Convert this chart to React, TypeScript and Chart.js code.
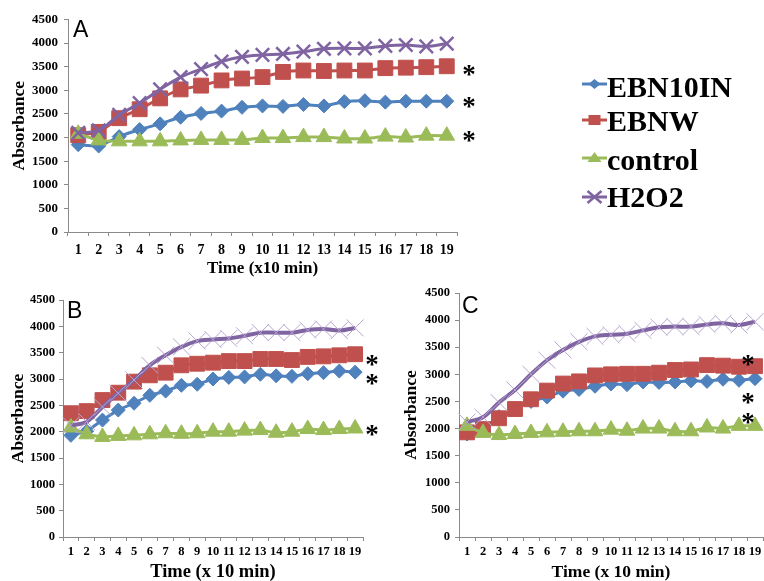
import React, { useEffect, useRef } from "react";
import { Chart, registerables } from "chart.js";

Chart.register(...registerables);

// ---------- data ----------
const categories = ["1", "2", "3", "4", "5", "6", "7", "8", "9", "10", "11", "12", "13", "14", "15", "16", "17", "18", "19"];
const seriesNames = ["EBN10IN", "EBNW", "control", "H2O2"];

const aEBN10IN = [1850, 1820, 2020, 2170, 2290, 2430, 2510, 2560, 2640, 2670, 2660, 2700, 2670, 2760, 2780, 2750, 2770, 2770, 2770];
const aEBNW = [2050, 2120, 2410, 2600, 2830, 3020, 3100, 3210, 3250, 3280, 3390, 3420, 3410, 3420, 3420, 3470, 3480, 3490, 3510];
const aControl = [2080, 1940, 1920, 1920, 1920, 1940, 1950, 1950, 1950, 1990, 1990, 2010, 2010, 1980, 1980, 2020, 2000, 2040, 2040];
const aH2O2 = [2100, 2150, 2480, 2730, 3020, 3280, 3450, 3610, 3710, 3750, 3770, 3820, 3880, 3890, 3890, 3940, 3960, 3930, 3990];

const bEBN10IN = [1930, 2010, 2220, 2410, 2540, 2690, 2770, 2880, 2900, 3000, 3030, 3040, 3090, 3060, 3050, 3100, 3120, 3150, 3130];
const bEBNW = [2350, 2390, 2600, 2740, 2950, 3070, 3120, 3260, 3290, 3310, 3340, 3340, 3380, 3380, 3360, 3420, 3430, 3450, 3470];
const bControl = [2080, 1950, 1900, 1920, 1930, 1950, 1970, 1960, 1970, 2000, 2000, 2020, 2030, 1980, 2000, 2050, 2030, 2050, 2060];
const bH2O2 = [2120, 2190, 2470, 2730, 2980, 3260, 3450, 3610, 3720, 3750, 3770, 3820, 3880, 3880, 3880, 3930, 3950, 3920, 3970];

const cEBN10IN = [1900, 2000, 2220, 2360, 2500, 2580, 2690, 2720, 2780, 2820, 2810, 2860, 2850, 2860, 2880, 2870, 2910, 2890, 2920];
const cEBNW = [1930, 1990, 2190, 2360, 2540, 2700, 2830, 2870, 2980, 3000, 3010, 3010, 3030, 3080, 3090, 3170, 3160, 3140, 3150];
const cControl = [2050, 1920, 1880, 1900, 1920, 1930, 1940, 1950, 1950, 1980, 1960, 2000, 2000, 1950, 1950, 2020, 2000, 2050, 2050];
const cH2O2 = [2120, 2210, 2480, 2710, 3000, 3260, 3450, 3600, 3700, 3730, 3750, 3810, 3870, 3880, 3880, 3920, 3940, 3910, 3970];

// significance asterisks: category position and value
const starsAIndex = [19.09, 19.09, 19.09];
const starsAValue = [3440, 2760, 2040];
const starsBIndex = [19.07, 19.07, 19.07];
const starsBValue = [3360, 3000, 2030];
const starsCIndex = [17.56, 17.56, 17.56];
const starsCValue = [3264, 2563, 2194];

const yMax = 4500;
const yStep = 500;
const panelLetters = ["A", "B", "C"];
const xTitleA = "Time (x10 min)";
const xTitleBC = "Time (x 10 min)";
const yTitle = "Absorbance";

// ---------- styles ----------
const SERIF = "'Liberation Serif', 'Times New Roman', serif";
const SANS = "'Liberation Sans', Arial, sans-serif";
const BLUE = "#4F81BD";
const RED = "#C0504D";
const GREEN = "#9BBB59";
const PURPLE = "#8064A2";
const PURPLE_LIGHT = "#B7A5D0";
const AXIS = "#8A8A8A";

type PanelCfg = {
  width: number;
  height: number;
  padTop: number;
  padRight: number;
  yWidth: number;
  xHeight: number;
  yTickSize: number;
  xTickSize: number;
  yTickPad: number;
  xTickPad: number;
  titleSize: number;
  xTitleSize: number;
  xTitleBottom: number;
  yTitlePad: number;
  xTitle: string;
  letter: string;
  letterX: number;
  letterY: number;
  data: number[][];
  starsIdx: number[];
  starsVal: number[];
  bold: boolean;
  legend: boolean;
};

function makeDatasets(data: number[][], bold: boolean) {
  return [
    {
      label: seriesNames[0],
      data: data[0],
      borderColor: BLUE,
      backgroundColor: BLUE,
      borderWidth: 3,
      pointStyle: "rectRot",
      pointRadius: 7,
      pointBackgroundColor: BLUE,
      pointBorderColor: BLUE,
      pointBorderWidth: 1,
      tension: 0.15,
      order: 3,
      clip: false,
    },
    {
      label: seriesNames[1],
      data: data[1],
      borderColor: RED,
      backgroundColor: RED,
      borderWidth: 3,
      pointStyle: "rect",
      pointRadius: 10.5,
      pointBackgroundColor: RED,
      pointBorderColor: RED,
      pointBorderWidth: 1,
      tension: 0.15,
      order: 2,
      clip: false,
    },
    {
      label: seriesNames[2],
      data: data[2],
      borderColor: GREEN,
      backgroundColor: GREEN,
      borderWidth: 3,
      pointStyle: "triangle",
      pointRadius: 9,
      pointBackgroundColor: GREEN,
      pointBorderColor: GREEN,
      pointBorderWidth: 1,
      tension: 0.15,
      order: 1,
      clip: false,
    },
    {
      label: seriesNames[3],
      data: data[3],
      borderColor: PURPLE,
      backgroundColor: PURPLE,
      borderWidth: bold ? 3 : 4,
      pointStyle: "crossRot",
      pointRadius: bold ? 9.5 : 12,
      pointBackgroundColor: bold ? PURPLE : PURPLE_LIGHT,
      pointBorderColor: bold ? PURPLE : PURPLE_LIGHT,
      pointBorderWidth: bold ? 2.5 : 1,
      tension: 0.35,
      order: 0,
      clip: false,
    },
  ];
}

function drawMarker(ctx: CanvasRenderingContext2D, style: string, x: number, y: number, color: string) {
  ctx.save();
  ctx.fillStyle = color;
  ctx.strokeStyle = color;
  ctx.beginPath();
  if (style === "rectRot") {
    ctx.moveTo(x - 6, y);
    ctx.lineTo(x, y - 5);
    ctx.lineTo(x + 6, y);
    ctx.lineTo(x, y + 5);
    ctx.closePath();
    ctx.fill();
  } else if (style === "rect") {
    ctx.rect(x - 6, y - 5, 12, 10);
    ctx.fill();
  } else if (style === "triangle") {
    ctx.moveTo(x, y - 6);
    ctx.lineTo(x + 7, y + 4);
    ctx.lineTo(x - 7, y + 4);
    ctx.closePath();
    ctx.fill();
  } else {
    ctx.lineWidth = 2.5;
    ctx.moveTo(x - 7, y - 6);
    ctx.lineTo(x + 7, y + 6);
    ctx.moveTo(x - 7, y + 6);
    ctx.lineTo(x + 7, y - 6);
    ctx.stroke();
  }
  ctx.restore();
}

function makeOverlayPlugin(cfg: PanelCfg) {
  return {
    id: "overlay" + cfg.letter,
    afterDraw(chart: any) {
      const ctx: CanvasRenderingContext2D = chart.ctx;
      const xs = chart.scales.x;
      const ys = chart.scales.y;
      ctx.save();
      // panel letter
      ctx.fillStyle = "#000";
      ctx.font = `23px ${SANS}`;
      ctx.textAlign = "left";
      ctx.textBaseline = "alphabetic";
      ctx.fillText(cfg.letter, cfg.letterX, cfg.letterY);
      // asterisks
      ctx.font = `bold 27px ${SERIF}`;
      ctx.textAlign = "center";
      for (let i = 0; i < cfg.starsIdx.length; i++) {
        const px = xs.getPixelForValue(cfg.starsIdx[i]);
        const py = ys.getPixelForValue(cfg.starsVal[i]);
        ctx.fillText("*", px, py + 13);
      }
      // legend
      if (cfg.legend) {
        const colors = [BLUE, RED, GREEN, PURPLE];
        const styles = ["rectRot", "rect", "triangle", "crossRot"];
        const markY = [84, 120, 158, 197];
        const baseY = [97, 131, 170, 207];
        ctx.font = `bold 30px ${SERIF}`;
        ctx.textAlign = "left";
        for (let i = 0; i < seriesNames.length; i++) {
          ctx.strokeStyle = colors[i];
          ctx.lineWidth = 3;
          ctx.beginPath();
          ctx.moveTo(582, markY[i]);
          ctx.lineTo(607, markY[i]);
          ctx.stroke();
          drawMarker(ctx, styles[i], 594.5, markY[i], colors[i]);
          ctx.fillStyle = "#000";
          ctx.fillText(seriesNames[i], 607, baseY[i]);
        }
      }
      ctx.restore();
    },
  };
}

function makeConfig(cfg: PanelCfg): any {
  return {
    type: "line",
    data: { labels: categories, datasets: makeDatasets(cfg.data, cfg.bold) },
    plugins: [makeOverlayPlugin(cfg)],
    options: {
      responsive: false,
      animation: false,
      devicePixelRatio: 1,
      layout: { autoPadding: false, padding: { top: cfg.padTop, right: cfg.padRight, bottom: 0, left: 0 } },
      plugins: { legend: { display: false }, tooltip: { enabled: false } },
      scales: {
        x: {
          type: "category",
          offset: true,
          grid: { offset: true, drawOnChartArea: false, drawTicks: true, tickLength: 4, color: AXIS, lineWidth: 1 },
          border: { display: true, color: AXIS, width: 1 },
          ticks: {
            autoSkip: false,
            maxRotation: 0,
            minRotation: 0,
            padding: cfg.xTickPad,
            color: "#000",
            font: { family: SERIF, weight: "bold", size: cfg.xTickSize },
          },
          title: {
            display: true,
            text: cfg.xTitle,
            color: "#000",
            font: { family: SERIF, weight: "bold", size: cfg.xTitleSize, lineHeight: 1 },
            padding: { top: 0, bottom: cfg.xTitleBottom },
          },
          afterFit: (s: any) => {
            s.height = cfg.xHeight;
            s.paddingLeft = 0;
            s.paddingRight = 0;
          },
        },
        y: {
          type: "linear",
          min: 0,
          max: yMax,
          grid: { drawOnChartArea: false, drawTicks: true, tickLength: 4, color: AXIS, lineWidth: 1 },
          border: { display: true, color: AXIS, width: 1 },
          ticks: {
            stepSize: yStep,
            padding: cfg.yTickPad,
            color: "#000",
            font: { family: SERIF, weight: "bold", size: cfg.yTickSize },
            callback: (v: any) => String(v),
          },
          title: {
            display: true,
            text: yTitle,
            color: "#000",
            font: { family: SERIF, weight: "bold", size: cfg.titleSize, lineHeight: 1 },
            padding: { top: cfg.yTitlePad, bottom: 0 },
          },
          afterFit: (s: any) => {
            s.width = cfg.yWidth;
            s.paddingTop = 0;
            s.paddingBottom = 0;
          },
        },
      },
    },
  };
}

const panelA: PanelCfg = {
  width: 764, height: 285, padTop: 19.5, padRight: 307, yWidth: 68, xHeight: 53,
  yTickSize: 13, xTickSize: 14, yTickPad: 6, xTickPad: 6, titleSize: 17.5, xTitleSize: 17,
  xTitleBottom: 8, yTitlePad: 11, xTitle: xTitleA, letter: panelLetters[0], letterX: 73, letterY: 37,
  data: [aEBN10IN, aEBNW, aControl, aH2O2], starsIdx: starsAIndex, starsVal: starsAValue, bold: true, legend: true,
};
const panelB: PanelCfg = {
  width: 380, height: 296, padTop: 15, padRight: 17, yWidth: 63, xHeight: 44,
  yTickSize: 12.5, xTickSize: 12.5, yTickPad: 4, xTickPad: 3, titleSize: 17.5, xTitleSize: 18.5,
  xTitleBottom: 0, yTitlePad: 10, xTitle: xTitleBC, letter: panelLetters[1], letterX: 67, letterY: 33,
  data: [bEBN10IN, bEBNW, bControl, bH2O2], starsIdx: starsBIndex, starsVal: starsBValue, bold: false, legend: false,
};
const panelC: PanelCfg = {
  width: 384, height: 296, padTop: 8, padRight: 1, yWidth: 79, xHeight: 44,
  yTickSize: 12.5, xTickSize: 12.5, yTickPad: 5, xTickPad: 3, titleSize: 17.5, xTitleSize: 17.5,
  xTitleBottom: 0, yTitlePad: 23, xTitle: xTitleBC, letter: panelLetters[2], letterX: 82, letterY: 28,
  data: [cEBN10IN, cEBNW, cControl, cH2O2], starsIdx: starsCIndex, starsVal: starsCValue, bold: false, legend: false,
};

function Panel({ cfg, left, top }: { cfg: PanelCfg; left: number; top: number }) {
  const ref = useRef<HTMLCanvasElement | null>(null);
  useEffect(() => {
    if (!ref.current) return;
    const chart = new Chart(ref.current, makeConfig(cfg));
    return () => chart.destroy();
  }, [cfg]);
  return (
    <canvas
      ref={ref}
      width={cfg.width}
      height={cfg.height}
      style={{ position: "absolute", left, top, width: cfg.width, height: cfg.height, display: "block" }}
    />
  );
}

export default function App() {
  return (
    <div style={{ position: "absolute", left: 0, top: 0, width: 764, height: 581, background: "#fff", overflow: "hidden" }}>
      <Panel cfg={panelA} left={0} top={0} />
      <Panel cfg={panelB} left={0} top={285} />
      <Panel cfg={panelC} left={380} top={285} />
    </div>
  );
}
